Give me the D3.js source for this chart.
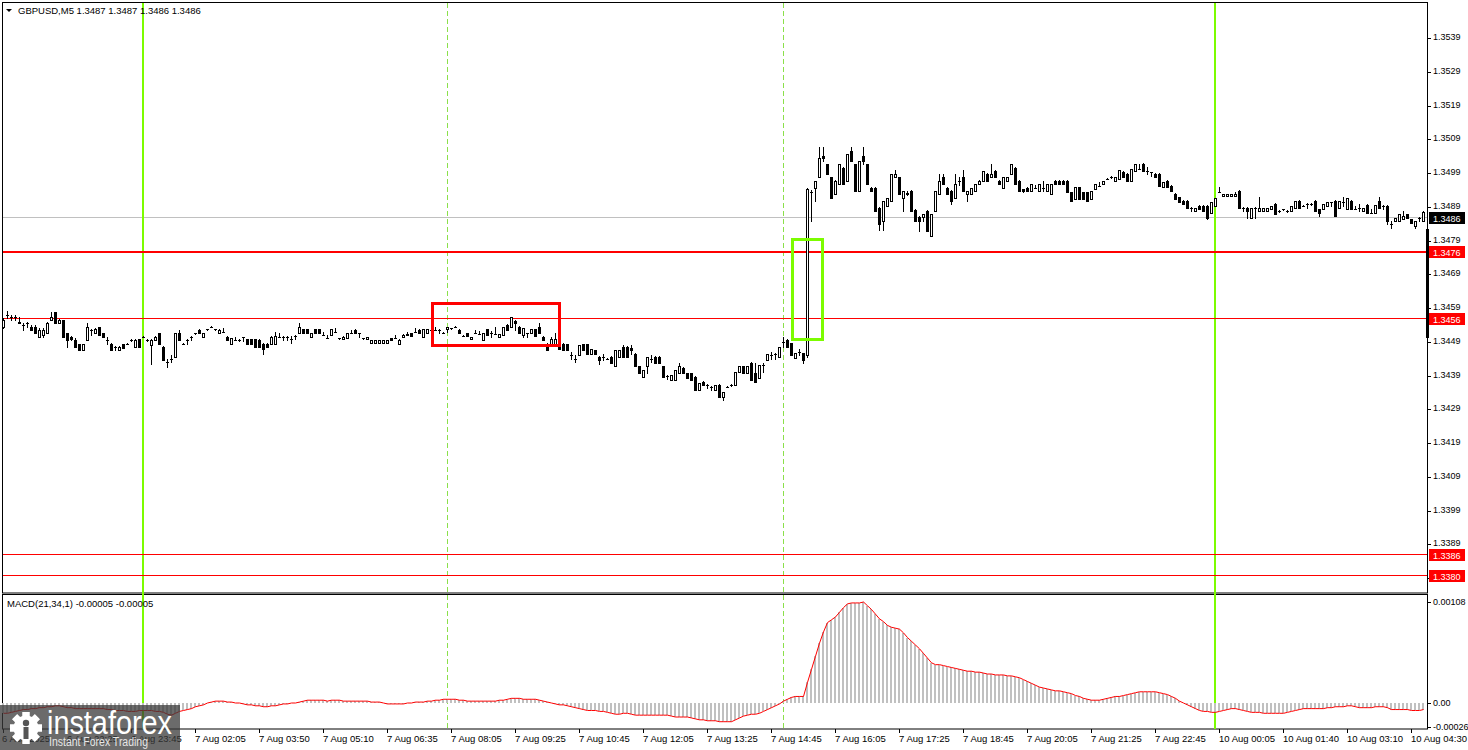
<!DOCTYPE html>
<html>
<head>
<meta charset="utf-8">
<script src="https://cdn.jsdelivr.net/npm/d3@7"></script>
<style>
    body { margin: 0; background: #fff; }
    text { font-family: "Liberation Sans", Arial, sans-serif; }
</style>
</head>
<body>
<div id="chart"></div>
<script>
// GBPUSD M5 - prices are stored as pips above 1.3400
const base = 1.3400;

const opens = [
    53.5,57,56.5,56.5,55,54,54.5,53.5,53.5,50.5,
    51,51.5,55.5,57.7,54.7,55.5,51.5,50.5,49.5,48.3,
    46.5,49.5,52.5,51.5,53.5,51.5,49.5,48.5,47.5,46.5,
    48.3,48.5,49.5,47.5,49.7,50.5,49.5,48,49.5,51.5,
    47.5,43,44,44.5,51.5,48.5,49.5,50.5,51.5,52.5,
    50.5,52.7,53.5,52.7,51.5,52,50.5,48.5,49.5,49.5,
    50.3,49.7,49.7,49.7,49.5,48.5,48.5,48.5,48.5,50.5,
    50.5,50.5,49.7,50.7,51.5,52.7,52.7,50.5,52.7,52.7,
    51,50,51,52,50,49.8,50,51.5,52.5,51.5,
    50,49.7,48.7,48.7,48.7,48.7,48.7,50,50,48.5,
    50.5,51,51.5,52,52.5,50.5,51.5,52.5,52.5,52.5,
    51.7,52.7,53,53.5,52.5,50.8,51.5,49.8,51.5,51.3,
    49.5,52.7,51.7,51.3,50.5,51,54,53.3,55.3,53.5,
    51,51.5,51.5,52.7,53.5,50.5,48.5,48.5,48.5,48.3,
    48.5,48.3,45,44,45,48.3,48.3,45.5,46.5,44.5,
    44.5,44,44.5,41.7,44.5,47.5,47.5,47.3,45.5,41.7,
    38.7,41.7,44,44.5,44.5,41.7,39,37.7,37.7,39.7,
    41.2,39.7,39.7,38.7,34.7,37.2,36.2,35.7,34.7,36.2,
    32.7,35.7,36.2,36.2,40,41.7,39.7,42.7,39.7,38.2,
    42,43.7,45,45.5,44.6,49,49.5,48.6,44.3,46,
    45.6,45,93.5,94.7,97.7,104,101.6,97.7,92.7,95.7,
    100.6,96.7,105.6,101.6,93.7,104,101.6,94.7,94.7,88.8,
    84.8,89.2,90.7,97.7,97.7,91.7,92.7,93.7,88.2,86,
    86,87.8,80.5,87.8,92.7,97.7,94.7,93.7,91.7,96.7,
    97.7,92.7,92.7,93.7,95.7,96.7,98.7,97.7,99.7,96.7,
    94.7,96.7,98.7,100.6,96.7,94.2,94.7,93.7,94.7,93.7,
    94.7,93.7,92.7,96.7,96.7,96.8,96.8,93.3,91.3,94.8,
    93.3,93.3,91.3,94.3,95.3,95.8,97.3,97.8,96.8,97.3,
    99.3,98.8,96.8,99.7,100.2,101.7,99.7,99.2,98.7,98.7,
    94.8,96.8,95.3,92.8,91.8,90.8,90.8,88.8,87.8,89.3,
    89.3,89.3,87.3,89.3,93.3,92.3,92.3,92.3,92.3,93.8,
    88.8,88.8,85.8,88.8,87.8,87.8,87.8,88.3,89.8,87.8,
    88.3,87.8,87.8,88.8,90.8,89.3,89.8,89.8,90.8,88.3,
    88.3,89.3,90.3,90.8,88.8,90.3,88.3,90.8,88.3,88.8,
    87.8,89.5,87.3,87.3,90.8,89.3,89.3,83.8,84.8,84.8,
    85.3,86.8,85.3,83.4,85.8,84.8
];

const highs = [
    56,58,57,57,56.5,54.5,55,54,54,53,
    53,55,57.7,57.7,55.7,55.5,51.5,50.7,50,48.5,
    48.3,54.7,52.7,53,53.5,51.7,50.5,48.7,47.7,47.7,
    48.5,48.7,49.7,49.7,49.7,50.7,49.7,49.7,50.7,51.7,
    47.7,44,45,51.5,52.5,48.7,49.7,50.7,51.7,52.7,
    51.7,52.9,53.7,52.9,52.7,53,50.7,50.2,50.5,49.7,
    50.5,49.9,49.9,49.9,49.7,48.7,48.7,50.7,52,51.5,
    50.7,50.7,50.7,50.9,54.7,52.9,52.9,51.5,52.9,52.9,
    52,51,52.7,53,50.2,50.7,51.5,52.5,52.7,51.7,
    50.2,50.5,49.5,49.5,49.5,49.5,49.5,50.2,51,49.7,
    51.3,52,51.7,53,52.7,52.7,52.7,53.5,53.5,52.7,
    51.9,53.5,53.2,53.7,52.7,51,51.7,50.5,52.5,52.3,
    51.5,52.9,52.2,53.5,51.3,53.5,54.2,56.5,55.5,53.7,
    53,51.7,52.7,52.9,54.7,50.7,48.7,50.5,51.5,48.5,
    48.7,48.5,46,45,48,48.5,48.5,47,46.7,44.7,
    45.5,44.2,44.7,46.6,46.6,48,47.7,48,45.7,41.9,
    40.7,44.5,45,44.7,44.7,41.9,39.2,39.2,40.7,42.7,
    41.4,39.9,39.9,38.9,36.7,37.4,36.4,35.9,36.2,36.4,
    34.2,35.9,36.4,40.2,41.7,41.9,41.7,42.9,42.7,42,
    42.7,45.5,46,45.7,47.6,50.5,49.7,48.8,45.6,47,
    45.8,94.6,94,96.7,106.6,106.6,101.8,97.9,96.9,101.6,
    100.8,104.6,106.8,101.8,102.6,106.8,101.8,94.9,94.9,89,
    90.7,91.7,98.7,99.8,97.9,93.7,93.7,93.9,88.4,86.2,
    86.8,88,86.8,93.7,98.7,98.7,94.9,93.9,98.7,97.7,
    100,93.7,94.7,95.7,96.9,99.7,98.9,101.6,99.9,96.9,
    97.7,97.7,101.6,100.8,96.9,94.4,94.9,95.7,95.5,95.7,
    96.7,95.7,95.9,96.9,96.9,97,97,93.5,94.8,95,
    93.5,93.5,93.8,95.8,96.3,96.8,97.5,98,97.8,99.8,
    99.5,99,100.2,101.7,101.7,101.9,100.7,99.4,98.9,98.9,
    96.3,97,95.5,93,92,91,91,89,88.8,89.5,
    89.5,89.5,90.3,91.5,94.8,92.8,92.8,92.8,93.3,94,
    89,89,88.8,89,91.8,88.8,88.8,89.3,90,88,
    88.5,88,89.3,90.8,91,89.5,90,90,91,88.5,
    89.8,90.3,90.5,91,90.8,91.8,91.5,91,89.3,89.8,
    88.8,89.7,88.3,89.5,91.8,89.5,89.5,84.8,85.8,86.8,
    87.8,87,85.5,84.8,86,87.8
];

const lows = [
    53,56,55.5,55.5,54.5,52.5,53.5,52.5,51.5,50.5,
    50.5,51.5,55.5,54.5,54.5,50.5,47.5,49.5,47.5,46.5,
    46.5,49.5,51,51.5,51,50.3,48.5,46.5,46.5,46.5,
    47.3,48.3,49.3,47.5,47.5,50.3,49.3,42.5,49.5,48.5,
    43.5,41.5,43,44.5,49.5,48.3,48.5,49.5,51.3,51.5,
    50.5,52.5,53.3,52.5,51.5,52,49.5,48.5,49.5,49.3,
    49.3,48.5,48.5,47.5,47.5,45.5,47.5,48.5,48.5,50.5,
    49.5,49.5,48.7,49.7,51.5,51.5,51.5,50.5,51.5,51.5,
    51,50,51,52,49.8,49.8,50,51.5,51.5,50.5,
    49.8,49.7,48.7,48.7,48.7,48.7,48.7,49.5,50,48.5,
    50.5,51,50.7,52,51.5,50.5,51.5,52.5,52.5,51.5,
    51.5,52,52.8,53.3,51.7,50.6,50.7,49.8,51.5,51.3,
    49.5,51,50.3,51.3,50.5,51,52.5,53.3,52.5,51.5,
    50.3,50.5,51.5,50.7,51.5,49.5,46.5,48.3,48.3,46.8,
    46.5,46.5,44,43,45,46.5,45.5,45.3,45.5,42.5,
    43.5,43.8,42.8,41.7,44.5,44.5,44.5,45.5,41.7,39.7,
    38.7,39.7,43,42.7,42.7,38.7,38,37.7,37.7,39.7,
    39.7,38.2,37.7,34.7,34.7,36.2,35.2,34.7,34.7,32.7,
    31.7,35.5,36,36.2,40,39.7,39.7,37.7,37.2,38.2,
    40.2,43.7,44,44,44.6,47.5,47.6,45.1,44.3,45,
    42.6,44.6,84.8,90.7,97.7,102.6,98.7,91.7,92.7,95.7,
    95.7,96.7,102.6,93.7,93.7,101.6,95.7,93.7,87.8,82,
    82,89.2,90.7,97.7,92.7,87.8,92.5,87.8,84.8,81.8,
    84.8,81.8,80.5,87.8,92.7,95.7,92.7,89.7,91.7,95.5,
    93.7,90.7,92.7,93.7,95.7,96.7,96.7,97.7,97.7,95.7,
    94.7,96.7,98.7,95.7,93.7,93.5,93.7,93.7,94.5,93.7,
    93.7,93.7,92.7,95.7,95.7,95.8,93.3,90.8,91.3,91.3,
    91.3,90.8,91.3,94.3,95.3,95.8,97.1,97.6,96.8,97.3,
    97.8,96.8,96.8,99.7,100.2,99.7,98.7,98.2,97.7,95.3,
    94.8,94.8,93.8,91.3,90.3,89.8,88.8,87.8,87.8,88.3,
    87.8,85.5,87.3,89.3,93.3,92.3,92.3,92.3,92.3,88.8,
    87.8,85.8,85.8,85.8,87.8,87.8,87.8,88.3,86.8,87.6,
    88.1,87.6,87.8,88.8,88.8,89.1,88.8,89.6,87.8,86.3,
    88.3,89.3,89.3,86.3,88.8,89.3,88.3,88.3,88.3,87.8,
    87.8,87.3,87.3,87.3,88.8,88.3,83.8,82.8,84.8,84.8,
    85.3,85.8,84.3,82.8,84.8,84.8
];

const closes = [
    55.5,57,56.5,56.3,54.5,54,54.5,52.5,51.5,52.5,
    52.5,54.7,56.5,54.7,55.5,50.5,49.5,49.7,47.5,46.5,
    48.3,53.5,52.5,52.7,51,50.3,49.5,46.5,47.5,47.5,
    47.3,48.5,49.5,49.5,47.5,50.5,49.5,49.5,50.5,48.5,
    43.5,43,44,51.5,49.5,48.5,49.5,50.5,51.5,51.5,
    51.5,52.7,53.5,52.7,52.5,52,49.5,50,49.5,49.5,
    50.3,48.5,48.5,47.5,47.5,47,47.5,50.5,50.7,50.5,
    50.5,50.5,49.7,50.7,53.5,51.5,51.5,51.5,51.5,51.5,
    51,50,52.7,52,50,50.5,51.5,51.5,51.5,51.5,
    50,50.3,49.5,49.5,49.5,49.5,49.5,49.5,50,49.5,
    51,51.3,50.7,52,51.5,52.7,52.7,52.5,52.5,52.5,
    51.7,53.5,53,53.5,51.7,50.8,50.7,50.5,51.5,51.3,
    51.5,51,51.7,51.3,51.3,53.5,52.5,56.3,54.5,51.5,
    53,51.5,52.7,50.7,51.5,49.5,46.5,49.8,49.8,46.8,
    46.5,46.5,45,44,48,46.5,45.5,47,45.5,43.5,
    44.5,44,42.8,46.6,46.6,44.5,44.5,46.5,41.7,39.7,
    40.7,44.5,44,42.7,42.7,38.7,39,39.2,40.7,41.7,
    39.7,38.2,37.7,34.7,36.7,36.2,36.2,35.7,36.2,32.7,
    34.2,35.7,36.2,40.2,41.7,39.7,41.7,37.7,37.2,42,
    42,45.5,45,45.5,47.6,49,47.6,45.1,45.6,46,
    43.6,94.4,93.5,96.7,103.6,103.5,98.7,91.7,96.7,101.6,
    95.7,104.6,102.6,93.7,102.6,102.6,95.7,93.7,87.8,83.8,
    90.7,91.7,98.7,98.7,92.7,93.7,93.2,87.8,84.8,84.8,
    86.8,81.8,86.8,93.7,96.7,95.7,92.7,90.7,95.7,96.7,
    93.7,93.7,94.7,95.7,96.7,99.7,96.7,98.7,97.7,95.7,
    97.7,97.7,101.6,95.7,93.7,93.7,93.7,95.7,94.7,95.7,
    94.7,95.7,95.7,95.7,95.7,95.8,93.3,90.8,94.8,91.3,
    91.3,90.8,93.8,95.8,95.3,96.8,97.3,97.8,97.8,99.8,
    97.8,96.8,100.2,101.7,100.2,99.7,99.7,99.2,97.7,95.3,
    96.3,94.8,93.8,91.3,90.3,89.8,88.8,88.8,88.8,88.3,
    87.8,85.8,90.3,91.5,93.3,92.8,92.8,92.8,92.8,88.8,
    88.8,87.8,88.8,88.8,88.8,88.8,88.8,89.3,86.8,87.8,
    88.3,87.8,89.3,90.8,88.8,89.3,89.8,89.8,87.8,87.3,
    89.8,90.3,90.3,86.3,90.8,90.3,91.5,88.3,88.3,88.8,
    88.8,87.3,87.3,89.5,88.8,89.3,84.8,83.8,85.8,86.8,
    86.3,85.8,84.3,84.8,85.8,87.5
];

// MACD(21,34,1) main value per bar, in units of 0.00001
const macd = [
    -11,-11,-10,-9,-8,-7,-7,-6,-6,-5,
    -5,-4,-4,-3,-3,-4,-5,-5,-6,-6,
    -6,-6,-6,-6,-6,-6,-7,-7,-8,-8,
    -8,-9,-9,-9,-8,-8,-8,-8,-9,-9,
    -10,-12,-13,-11,-9,-8,-7,-6,-4,-3,
    -2,0,1,2,2,2,1,1,0,0,
    -1,-2,-2,-3,-3,-4,-4,-3,-3,-2,
    -1,-1,0,0,1,2,3,3,3,3,
    3,2,3,3,3,2,2,2,2,2,
    2,2,1,1,1,0,-1,-1,-1,-1,
    -1,0,0,1,1,1,2,2,3,3,
    4,4,4,4,3,3,2,2,2,2,
    2,2,2,2,3,3,4,5,5,5,
    4,4,4,4,3,2,1,0,-1,-2,
    -2,-3,-4,-5,-6,-7,-8,-8,-8,-9,
    -9,-10,-11,-12,-12,-11,-11,-12,-13,-13,
    -13,-13,-13,-13,-13,-13,-13,-14,-15,-15,
    -15,-15,-16,-17,-18,-18,-19,-19,-19,-20,
    -20,-20,-20,-18,-16,-14,-13,-12,-12,-11,
    -9,-7,-5,-3,-1,2,4,6,7,7,
    7,22,36,50,64,76,86,89,92,97,
    102,106,107,107,107,108,104,100,95,90,
    87,83,81,80,79,75,70,66,62,58,
    53,48,43,41,41,40,39,38,37,36,
    35,34,34,33,33,32,31,31,30,30,
    30,29,29,28,27,25,23,21,19,17,
    16,15,14,13,13,12,11,10,8,7,
    5,4,3,3,3,4,5,6,7,7,
    8,9,10,11,12,12,12,12,12,11,
    10,9,7,5,2,0,-2,-4,-6,-8,
    -9,-9,-10,-10,-9,-8,-7,-6,-6,-7,
    -8,-9,-10,-10,-10,-11,-11,-11,-11,-11,
    -11,-10,-9,-8,-7,-6,-6,-6,-6,-6,
    -6,-5,-5,-4,-4,-4,-3,-3,-4,-5,
    -5,-5,-5,-4,-4,-4,-5,-7,-7,-7,
    -7,-7,-8,-8,-8,-7
];

// time axis labels and the bar they sit on
const timeLabels = ["6 Aug 2025", "6 Aug 22:25", "6 Aug 23:45", "7 Aug 02:05", "7 Aug 03:50", "7 Aug 05:10",
    "7 Aug 06:35", "7 Aug 08:05", "7 Aug 09:25", "7 Aug 10:45", "7 Aug 12:05", "7 Aug 13:25", "7 Aug 14:45",
    "7 Aug 16:05", "7 Aug 17:25", "7 Aug 18:45", "7 Aug 20:05", "7 Aug 21:25", "7 Aug 22:45",
    "10 Aug 00:05", "10 Aug 01:40", "10 Aug 03:10", "10 Aug 04:30"];
const timeLabelBars = [0, 16, 32, 48, 64, 80, 96, 112, 128, 144, 160, 176, 192, 208, 224, 240, 256, 272, 288, 304, 320, 336, 352];

const priceTicks = [1.3379, 1.3389, 1.3399, 1.3409, 1.3419, 1.3429, 1.3439, 1.3449, 1.3459, 1.3469,
    1.3479, 1.3489, 1.3499, 1.3509, 1.3519, 1.3529, 1.3539];
const macdTicks = [0.00108, 0, -0.00026];
const macdTickLabels = ["0.00108", "0.00", "-0.00026"];

// horizontal levels drawn on the chart
const levelPrices = [1.3476, 1.3456, 1.3386, 1.3380];
const currentPrice = 1.3486;

// vertical markers (bar index)
const greenLines = [35, 303];
const dashedLines = [111, 195];

// marked zones: bar range and price range (pips)
const zoneStart = [107.3, 197.3];
const zoneEnd = [139.05, 204.9];
const zoneTop = [60.4, 79.4];
const zoneBottom = [47.8, 49.8];
const zoneColor = ["#ff0000", "#7cfc00"];

const W = 1468, H = 750;
const n = closes.length;
const toPrice = v => base + v / 10000;

const svg = d3.select("#chart").append("svg")
    .attr("width", W)
    .attr("height", H)
    .style("display", "block");

const x = d3.scaleLinear().domain([0, n]).range([1, 1425]);
const cx = i => x(i + 0.5);
const y = d3.scaleLinear().domain([1.337458, 1.354969]).range([593, 2]);
const yM = d3.scaleLinear().domain([-0.000278, 0.001155]).range([729, 595]);

// panels
svg.append("rect").attr("x", 2.5).attr("y", 2.5).attr("width", 1425).attr("height", 590.5)
    .attr("fill", "#fff").attr("stroke", "#000");
svg.append("rect").attr("x", 2.5).attr("y", 594.5).attr("width", 1425).attr("height", 134.5)
    .attr("fill", "#fff").attr("stroke", "#000");

const plot = svg.append("g").attr("shape-rendering", "crispEdges");

// current price line
plot.append("line")
    .attr("x1", 3).attr("x2", 1427)
    .attr("y1", Math.round(y(currentPrice)) + 0.5).attr("y2", Math.round(y(currentPrice)) + 0.5)
    .attr("stroke", "#c0c0c0");

// dashed separators through both panels
plot.selectAll("line.sep")
    .data(dashedLines)
    .enter()
    .append("line")
    .attr("class", "sep")
    .attr("x1", d => cx(d) + 0.5).attr("x2", d => cx(d) + 0.5)
    .attr("y1", 3).attr("y2", 729)
    .attr("stroke", "#8be04a")
    .attr("stroke-dasharray", "5,3");

// green verticals
plot.selectAll("line.green")
    .data(greenLines)
    .enter()
    .append("line")
    .attr("class", "green")
    .attr("x1", d => cx(d)).attr("x2", d => cx(d))
    .attr("y1", 3).attr("y2", 729)
    .attr("stroke", "#7cfc00")
    .attr("stroke-width", 2);

// red levels
plot.selectAll("line.level")
    .data(levelPrices)
    .enter()
    .append("line")
    .attr("class", "level")
    .attr("x1", 3).attr("x2", 1427)
    .attr("y1", d => Math.round(y(d)) + 0.5).attr("y2", d => Math.round(y(d)) + 0.5)
    .attr("stroke", "#ff0000")
    .attr("stroke-width", (d, i) => i === 0 ? 2 : 1);

// candles
const candles = plot.selectAll("g.candle")
    .data(d3.range(n))
    .enter()
    .append("g")
    .attr("class", "candle");

candles.append("line")
    .attr("x1", i => cx(i) + 0.5).attr("x2", i => cx(i) + 0.5)
    .attr("y1", i => Math.round(y(toPrice(highs[i]))))
    .attr("y2", i => Math.round(y(toPrice(lows[i]))) + 1)
    .attr("stroke", "#000");

candles.each(function(i) {
    const g = d3.select(this);
    const yo = Math.round(y(toPrice(opens[i])));
    const yc = Math.round(y(toPrice(closes[i])));
    if (yo === yc) {
        g.append("line")
            .attr("x1", cx(i) - 1).attr("x2", cx(i) + 2)
            .attr("y1", yo + 0.5).attr("y2", yo + 0.5)
            .attr("stroke", "#000");
    } else if (closes[i] > opens[i]) {
        g.append("rect")
            .attr("x", cx(i) - 0.5).attr("y", yc + 0.5)
            .attr("width", 2).attr("height", yo - yc)
            .attr("fill", "#fff").attr("stroke", "#000");
    } else {
        g.append("rect")
            .attr("x", cx(i) - 1).attr("y", yo)
            .attr("width", 3).attr("height", yc - yo + 1)
            .attr("fill", "#000");
    }
});

// zones
plot.selectAll("rect.zone")
    .data(zoneStart)
    .enter()
    .append("rect")
    .attr("class", "zone")
    .attr("x", (d, i) => cx(zoneStart[i]))
    .attr("y", (d, i) => y(toPrice(zoneTop[i])))
    .attr("width", (d, i) => cx(zoneEnd[i]) - cx(zoneStart[i]))
    .attr("height", (d, i) => y(toPrice(zoneBottom[i])) - y(toPrice(zoneTop[i])))
    .attr("fill", "none")
    .attr("stroke", (d, i) => zoneColor[i])
    .attr("stroke-width", 3);

// thick marker on the right edge of the price panel
plot.append("rect")
    .attr("x", 1425.5).attr("y", y(1.34824))
    .attr("width", 3).attr("height", y(1.34500) - y(1.34824))
    .attr("fill", "#000");

// MACD histogram
plot.selectAll("rect.hist")
    .data(macd)
    .enter()
    .append("rect")
    .attr("class", "hist")
    .attr("x", (d, i) => cx(i) - 1)
    .attr("y", d => yM(Math.max(0, d * 1e-5)))
    .attr("width", 2)
    .attr("height", d => Math.abs(yM(d * 1e-5) - yM(0)))
    .attr("fill", "#c0c0c0");

svg.append("path")
    .datum(macd)
    .attr("d", d3.line().x((d, i) => cx(i) + 0.5).y(d => yM(d * 1e-5)))
    .attr("fill", "none")
    .attr("stroke", "#ff0000")
    .attr("stroke-width", 1);

// price axis
const axis = svg.append("g");
axis.selectAll("line.ptick")
    .data(priceTicks)
    .enter()
    .append("line")
    .attr("x1", 1427).attr("x2", 1431)
    .attr("y1", d => Math.round(y(d)) + 0.5).attr("y2", d => Math.round(y(d)) + 0.5)
    .attr("stroke", "#000").attr("shape-rendering", "crispEdges");
axis.selectAll("text.ptick")
    .data(priceTicks)
    .enter()
    .append("text")
    .attr("x", 1433)
    .attr("y", d => y(d) + 2)
    .attr("font-size", "9px")
    .attr("fill", "#000")
    .text(d => d.toFixed(4));

// level boxes
const boxes = axis.selectAll("g.lbox")
    .data(levelPrices.map(p => ({p: p, c: "#ff0000"})).concat([{p: currentPrice, c: "#000"}]))
    .enter()
    .append("g");
boxes.append("rect")
    .attr("x", 1429).attr("y", d => Math.round(y(d.p)) - 5)
    .attr("width", 36).attr("height", 12)
    .attr("fill", d => d.c).attr("shape-rendering", "crispEdges");
boxes.append("text")
    .attr("x", 1433).attr("y", d => Math.round(y(d.p)) + 4.5)
    .attr("font-size", "9px")
    .attr("fill", "#fff")
    .text(d => d.p.toFixed(4));

// MACD axis
axis.selectAll("line.mtick")
    .data(macdTicks)
    .enter()
    .append("line")
    .attr("x1", 1427).attr("x2", 1431)
    .attr("y1", d => Math.round(yM(d)) + 0.5).attr("y2", d => Math.round(yM(d)) + 0.5)
    .attr("stroke", "#000").attr("shape-rendering", "crispEdges");
axis.selectAll("text.mtick")
    .data(macdTicks)
    .enter()
    .append("text")
    .attr("x", 1433)
    .attr("y", d => yM(d) + 3)
    .attr("font-size", "9px")
    .text((d, i) => macdTickLabels[i]);

// time axis
axis.selectAll("line.ttick")
    .data(timeLabelBars)
    .enter()
    .append("line")
    .attr("x1", d => cx(d) + 0.5).attr("x2", d => cx(d) + 0.5)
    .attr("y1", 729).attr("y2", 733)
    .attr("stroke", "#000").attr("shape-rendering", "crispEdges");
axis.selectAll("text.ttick")
    .data(timeLabelBars)
    .enter()
    .append("text")
    .attr("x", (d, i) => i === 0 ? 2 : cx(d))
    .attr("y", 742)
    .attr("font-size", "9.5px")
    .text((d, i) => timeLabels[i]);

// header texts
svg.append("path").attr("d", "M6,9 L12,9 L9,12 Z").attr("fill", "#000");
svg.append("text").attr("x", 18).attr("y", 14).attr("font-size", "9.5px")
    .text("GBPUSD,M5  1.3487 1.3487 1.3486 1.3486");
svg.append("text").attr("x", 7).attr("y", 607).attr("font-size", "9.5px")
    .text("MACD(21,34,1) -0.00005 -0.00005");

// watermark
const logo = svg.append("g");
logo.append("rect").attr("x", 0).attr("y", 705).attr("width", 180).attr("height", 45)
    .attr("fill", "#3a3a3a").attr("opacity", 0.75);
const gear = logo.append("g").attr("transform", "translate(26,728)").attr("fill", "#fff");
d3.range(8).forEach(k => {
    gear.append("rect").attr("x", -3.5).attr("y", -16).attr("width", 7).attr("height", 32)
        .attr("transform", `rotate(${k * 22.5 * 2})`);
});
gear.append("circle").attr("r", 12.5);
gear.append("circle").attr("cx", 0).attr("cy", -5).attr("r", 3.2).attr("fill", "#555");
gear.append("rect").attr("x", -2.5).attr("y", -1).attr("width", 5).attr("height", 12).attr("fill", "#555");
logo.append("text").attr("x", 47).attr("y", 734).attr("font-size", "33px").attr("fill", "#fff")
    .attr("textLength", 125).attr("lengthAdjust", "spacingAndGlyphs")
    .text("instaforex");
logo.append("text").attr("x", 49).attr("y", 746).attr("font-size", "12px").attr("fill", "#e6e6e6")
    .attr("textLength", 99).attr("lengthAdjust", "spacingAndGlyphs")
    .text("Instant Forex Trading");
</script>
</body>
</html>
